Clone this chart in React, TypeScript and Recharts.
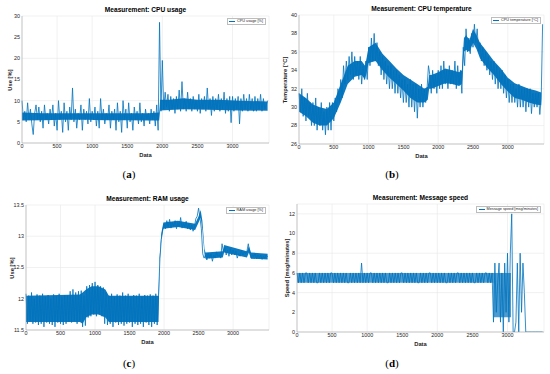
import { ComposedChart, Line, Area, XAxis, YAxis, CartesianGrid } from 'recharts';

// samples every STEP data points
const STEP = 20;
const X_MAX = 3520;
const X_TICKS = [0, 500, 1000, 1500, 2000, 2500, 3000];

const CPU_USAGE = [
  10, 5.5, 7.5, 5, 9.5, 5.5, 8, 4.5, 2, 7,
  9, 5.5, 8.5, 5, 7.5, 3.5, 9, 5.5, 7, 4.5,
  8, 5.5, 9, 4, 7, 3, 10, 5.5, 7.5, 2.5,
  9.5, 5, 7.5, 3, 8.5, 5.5, 13, 5, 8, 3.5,
  7, 5.5, 9, 3, 8, 5.5, 7.5, 4.5, 10.5, 5,
  7.5, 5.5, 8.5, 4, 7.5, 3.5, 10.5, 5.5, 8, 4.5,
  7, 5.5, 9, 3.5, 7.5, 5.5, 8, 3, 9.5, 5,
  7.5, 2.5, 10, 5.5, 8, 3.5, 9.5, 5, 7, 3,
  8.5, 5.5, 7.5, 4.5, 9.5, 5, 7, 4, 8, 5.5,
  7, 4.5, 8, 5.5, 7.5, 4, 9, 3, 28.5, 7.5,
  19.5, 8, 12, 8.5, 11.5, 7.5, 11, 8, 10.5, 7,
  11, 8, 12.5, 7.5, 14.5, 8, 10.5, 7.5, 12, 8,
  10.5, 7.5, 11, 8, 10, 7.5, 11.5, 7, 10.5, 8,
  11, 7.5, 13, 8, 10.5, 6.5, 11, 7.5, 10.5, 8,
  11.5, 7.5, 10.5, 8, 12, 7, 10.5, 7.5, 11, 4.8,
  11, 7.5, 10.5, 8, 11, 4.5, 10.5, 7.5, 11.5, 8,
  10.5, 7.5, 11.5, 8, 10.5, 7.5, 11, 7.5, 10.5, 8,
  11.5, 7.5, 10.5, 8, 9, 10,
];
const CPU_USAGE_TICKS = [0, 5, 10, 15, 20, 25, 30];
// dense core of the noise, read as an envelope
const CPU_BAND_X = [0, 300, 600, 900, 1200, 1500, 1800, 1955, 1968, 2100, 2300, 2500, 2800, 3100, 3500];
const CPU_BAND_LO = [5.3, 5.4, 5.5, 5.5, 5.4, 5.4, 5.3, 5.3, 7.7, 7.8, 8.0, 7.9, 7.8, 7.7, 7.6];
const CPU_BAND_HI = [7.2, 7.0, 7.0, 7.0, 7.0, 7.0, 7.0, 7.2, 10.2, 10.2, 10.6, 10.2, 10.2, 10.0, 9.8];

const CPU_TEMP = [
  31.5, 29.5, 32, 29, 31, 28.5, 31.5, 29, 30.5, 28,
  30.5, 28, 31, 27.5, 30, 28, 30.5, 27.5, 29.5, 27,
  30, 27.5, 30.5, 27.5, 30.5, 28.5, 31, 29.5, 32, 30.5,
  33, 31, 34.5, 32.5, 35, 33, 35.5, 33.5, 36, 33,
  35.5, 33.5, 35, 33, 35.5, 32.5, 34.5, 33, 35, 33,
  36.5, 34.5, 37.5, 35, 38, 35, 37, 34.5, 36, 33.5,
  35.5, 33, 35, 32.5, 34.5, 32, 34.5, 32, 34, 31.5,
  34, 31.5, 33.5, 31, 33, 30.5, 33, 30.5, 32.5, 30,
  33, 30, 32.5, 29.5, 32.5, 28.8, 32, 30, 32.5, 30,
  32, 30.5, 32, 34.5, 33.5, 31.5, 34, 32, 33.5, 31.5,
  34, 32, 34.5, 32, 35, 32.5, 34, 32, 34.5, 32.5,
  34, 32.5, 35, 32, 34.5, 32.5, 34, 31.5, 36.5, 34.5,
  38.5, 36, 37.5, 35.8, 38, 36.5, 39, 37, 38.5, 36,
  37, 35, 36.5, 34.5, 36, 34, 35.5, 33.5, 35, 33,
  35, 32.5, 34.5, 32, 34, 32, 34, 31.5, 33.5, 31,
  33, 30.5, 32.5, 30.5, 32.5, 30.5, 32, 30, 32.5, 30,
  32, 30, 32, 29.5, 32, 30, 32, 29.3, 31.5, 30,
  31.5, 30, 31.5, 29.2, 31, 39,
];
const CPU_TEMP_TICKS = [26, 28, 30, 32, 34, 36, 38, 40];
const TEMP_BAND_X = [
  0, 100, 200, 300, 400, 500, 600, 700, 800, 900, 950, 1000, 1100, 1200, 1300, 1400, 1500, 1600,
  1700, 1800, 1850, 1870, 1900, 2000, 2100, 2200, 2300, 2340, 2370, 2400, 2450, 2500, 2550, 2600,
  2700, 2800, 2900, 3000, 3100, 3200, 3300, 3400, 3480,
];
const TEMP_BAND_LO = [
  29.5, 29, 28.3, 28, 28, 28.8, 30.5, 32.5, 33.3, 33.5, 33, 34.8, 35, 34, 33.2, 32.5, 31.8, 31,
  30.5, 30.5, 30.8, 32, 32, 32.3, 32.6, 32.5, 32.3, 32.5, 36, 36.2, 36, 37, 36.3, 35.3,
  34.3, 33.5, 32.5, 31.7, 31, 30.8, 30.5, 30.3, 30.2,
];
const TEMP_BAND_HI = [
  31.5, 31, 30.3, 30, 29.8, 30.5, 32.5, 34.5, 35, 35, 34.5, 36.5, 37, 35.8, 35, 34.2, 33.5, 33,
  32.5, 32, 32.2, 33.5, 33.5, 33.8, 34.2, 34, 33.8, 34, 37.5, 37.8, 37.3, 38.5, 37.8, 37,
  36, 35, 34.2, 33.2, 32.6, 32.3, 32, 31.8, 31.6,
];

const RAM_USAGE = [
  12.08, 11.6, 12.05, 11.65, 12.1, 11.6, 12.0, 11.62, 12.07, 11.58,
  12.05, 11.6, 12.08, 11.55, 12.03, 11.62, 12.06, 11.6, 12.0, 11.58,
  12.07, 11.55, 12.04, 11.62, 12.08, 11.6, 12.03, 11.58, 12.06, 11.6,
  12.05, 11.63, 12.12, 11.62, 12.15, 11.65, 12.1, 11.6, 12.12, 11.65,
  12.13, 11.55, 12.05, 11.57, 12.2, 11.7, 12.22, 11.72, 12.25, 11.75,
  12.27, 11.72, 12.22, 11.75, 12.2, 11.72, 12.18, 11.6, 12.1, 11.58,
  12.05, 11.6, 12.08, 11.55, 12.03, 11.62, 12.07, 11.58, 12.05, 11.6,
  12.1, 11.57, 12.05, 11.6, 12.08, 11.62, 12.03, 11.55, 12.06, 11.6,
  12.05, 11.58, 12.08, 11.6, 12.03, 11.55, 12.06, 11.62, 12.05, 11.58,
  12.07, 11.55, 12.05, 11.6, 12.08, 11.58, 12.05, 12.65, 12.95, 13.1,
  13.2, 13.12, 13.25, 13.15, 13.27, 13.13, 13.22, 13.16, 13.25, 13.12,
  13.22, 13.15, 13.3, 13.13, 13.2, 13.15, 13.24, 13.12, 13.2, 13.1,
  13.18, 13.08, 13.15, 13.28, 13.32, 13.45, 13.3, 13.12, 12.72, 12.65,
  12.7, 12.62, 12.73, 12.65, 12.72, 12.6, 12.7, 12.65, 12.75, 12.68,
  12.7, 12.65, 12.88, 12.75, 12.82, 12.7, 12.78, 12.68, 12.8, 12.7,
  12.78, 12.7, 12.76, 12.65, 12.72, 12.68, 12.78, 12.7, 12.75, 12.72,
  12.76, 12.88, 12.74, 12.65, 12.7, 12.68, 12.72, 12.64, 12.7, 12.66,
  12.7, 12.63, 12.68, 12.65, 12.7, 12.67,
];
const RAM_USAGE_TICKS = [11.5, 12, 12.5, 13, 13.5];
const RAM_BAND_X = [
  0, 780, 820, 870, 950, 1050, 1150, 1200, 1920, 1935, 1960, 1990, 2200, 2450, 2500, 2530, 2555,
  2585, 2600, 2850, 2870, 3200, 3230, 3260, 3500,
];
const RAM_BAND_LO = [
  11.63, 11.63, 11.6, 11.7, 11.75, 11.75, 11.7, 11.63, 11.63, 12.55, 12.95, 13.12, 13.15, 13.1, 13.22, 13.3, 13.1,
  12.72, 12.64, 12.66, 12.74, 12.66, 12.74, 12.64, 12.63,
];
const RAM_BAND_HI = [
  12.05, 12.07, 12.1, 12.15, 12.2, 12.2, 12.15, 12.05, 12.05, 12.65, 13.05, 13.22, 13.25, 13.2, 13.32, 13.42, 13.25,
  12.8, 12.74, 12.76, 12.86, 12.76, 12.84, 12.74, 12.72,
];

const MSG_SPEED = [
  6, 5, 6, 5, 6, 5, 6, 6, 5, 6,
  5, 6, 5, 6, 5, 5, 6, 5, 6, 5,
  6, 5, 6, 5, 6, 6, 5, 6, 5, 6,
  5, 6, 5, 6, 5, 6, 5, 5, 6, 5,
  6, 5, 6, 5, 6, 5, 7, 5, 6, 5,
  6, 5, 6, 6, 5, 6, 5, 6, 5, 6,
  5, 6, 5, 6, 5, 5, 6, 5, 6, 5,
  6, 5, 6, 5, 6, 6, 5, 6, 5, 6,
  5, 6, 5, 6, 5, 6, 5, 5, 6, 5,
  6, 5, 6, 5, 6, 6, 5, 6, 5, 6,
  5, 6, 5, 6, 5, 6, 5, 5, 6, 5,
  6, 5, 6, 5, 6, 6, 5, 6, 5, 6,
  5, 6, 5, 6, 5, 6, 5, 5, 6, 5,
  6, 5, 6, 5, 6, 6, 5, 6, 5, 6,
  1, 7, 2, 5, 7, 1, 6, 0, 7, 2,
  8, 1, 8, 12, 0, 0, 1, 7, 0, 8,
  2, 7, 4, 0, 0, 0, 0, 0, 0, 0,
  0, 0, 0, 0, 0, 0,
];
const MSG_SPEED_TICKS = [0, 2, 4, 6, 8, 10, 12];
const MSG_BAND_X = [0, 2795, 2800, 3050];
const MSG_BAND_LO = [5, 5, 1.5, 1.5];
const MSG_BAND_HI = [6, 6, 6, 6];

const LINE_COLOR = '#0072bd';
const GRID_COLOR = '#e8e8e8';
const BOX_COLOR = '#a8a8a8';
const TEXT_COLOR = '#262626';
const SANS = '"Liberation Sans", Arial, Helvetica, sans-serif';
const PANEL_W = 275;

const toRows = (values: number[]) => values.map((v, i) => ({ x: i * STEP, v }));
const toBand = (xs: number[], lo: number[], hi: number[]) => xs.map((x, i) => ({ x, band: [lo[i], hi[i]] }));

interface PanelProps {
  left: number;
  top: number;
  plot: { l: number; t: number; r: number; b: number };
  title: string;
  yLabel: string;
  yLabelX: number;
  legend: string;
  values: number[];
  band: { x: number; band: number[] }[];
  bandOpacity: number;
  yDomain: [number, number];
  yTicks: number[];
  caption: string;
  captionX: number;
  captionY: number;
}

function Panel(p: PanelProps) {
  const { plot } = p;
  const midX = (plot.l + plot.r) / 2;
  const midY = (plot.t + plot.b) / 2;
  const tick = { fontSize: 5.4, fill: TEXT_COLOR, fontFamily: SANS };
  return (
    <div style={{ position: 'absolute', left: p.left, top: p.top, width: PANEL_W, height: 189 }}>
      <ComposedChart
        width={PANEL_W}
        height={plot.b + 10}
        margin={{ top: plot.t, right: PANEL_W - plot.r, bottom: 0, left: 0 }}
      >
        <CartesianGrid stroke={GRID_COLOR} strokeWidth={0.6} />
        <XAxis
          dataKey="x"
          type="number"
          domain={[0, X_MAX]}
          ticks={X_TICKS}
          height={10}
          tickSize={0}
          tickMargin={1.5}
          tick={tick}
          axisLine={{ stroke: BOX_COLOR, strokeWidth: 0.6 }}
        />
        <XAxis xAxisId="top" orientation="top" dataKey="x" type="number" domain={[0, X_MAX]} height={0} tick={false} tickLine={false} axisLine={{ stroke: BOX_COLOR, strokeWidth: 0.6 }} />
        <YAxis
          type="number"
          domain={p.yDomain}
          ticks={p.yTicks}
          width={plot.l}
          tickSize={0}
          tickMargin={2}
          tick={tick}
          allowDataOverflow
          axisLine={{ stroke: BOX_COLOR, strokeWidth: 0.6 }}
        />
        <YAxis yAxisId="right" orientation="right" domain={p.yDomain} width={0} tick={false} tickLine={false} axisLine={{ stroke: BOX_COLOR, strokeWidth: 0.6 }} />
        <Area
          data={p.band}
          dataKey="band"
          type="linear"
          stroke="none"
          fill={LINE_COLOR}
          fillOpacity={p.bandOpacity}
          isAnimationActive={false}
        />
        <Line
          data={toRows(p.values)}
          dataKey="v"
          type="linear"
          stroke={LINE_COLOR}
          strokeWidth={0.8}
          dot={false}
          isAnimationActive={false}
        />
      </ComposedChart>

      <div style={{ position: 'absolute', left: midX - 80, width: 160, top: plot.t - 10, textAlign: 'center', font: `bold 6.6px ${SANS}`, color: '#000' }}>
        {p.title}
      </div>
      <div style={{ position: 'absolute', left: midX - 30, width: 60, top: plot.b + 9, textAlign: 'center', font: `bold 5.8px ${SANS}`, color: TEXT_COLOR }}>
        Data
      </div>
      <div
        style={{
          position: 'absolute', left: p.yLabelX - 50, width: 100, top: midY - 4, textAlign: 'center',
          font: `bold 5.8px ${SANS}`, color: TEXT_COLOR, transform: 'rotate(-90deg)', lineHeight: '8px',
        }}
      >
        {p.yLabel}
      </div>
      <div
        style={{
          position: 'absolute', right: PANEL_W - plot.r + 3, top: plot.t + 1.5, background: '#fff',
          border: '0.5px solid #bdbdbd', padding: '0.5px 2px 0.5px 1.5px', display: 'flex', alignItems: 'center', gap: 2,
          font: `3.8px ${SANS}`, color: TEXT_COLOR, lineHeight: '4.5px', whiteSpace: 'nowrap',
        }}
      >
        <span style={{ display: 'inline-block', width: 6, height: 1, background: LINE_COLOR }} />
        {p.legend}
      </div>
      <div style={{ position: 'absolute', left: p.captionX - 20, width: 40, top: p.captionY - 7, textAlign: 'center', font: `11px "Liberation Serif", serif`, color: '#000' }}>
        (<b>{p.caption}</b>)
      </div>
    </div>
  );
}

export default function App() {
  return (
    <div style={{ position: 'absolute', left: 0, top: 0, width: 550, height: 374, background: '#fff', overflow: 'hidden' }}>
      <Panel
        left={0} top={0} plot={{ l: 22, t: 16, r: 269, b: 143 }}
        title="Measurement: CPU usage" yLabel="Use [%]" yLabelX={10} legend="CPU usage [%]"
        values={CPU_USAGE} band={toBand(CPU_BAND_X, CPU_BAND_LO, CPU_BAND_HI)} bandOpacity={0.95}
        yDomain={[0, 30]} yTicks={CPU_USAGE_TICKS}
        caption="a" captionX={129} captionY={175}
      />
      <Panel
        left={275} top={0} plot={{ l: 24, t: 15, r: 269, b: 144 }}
        title="Measurement: CPU temperature" yLabel="Temperature [°C]" yLabelX={10} legend="CPU temperature [°C]"
        values={CPU_TEMP} band={toBand(TEMP_BAND_X, TEMP_BAND_LO, TEMP_BAND_HI)} bandOpacity={0.95}
        yDomain={[26, 40]} yTicks={CPU_TEMP_TICKS}
        caption="b" captionX={117} captionY={175}
      />
      <Panel
        left={0} top={185} plot={{ l: 26, t: 20, r: 269, b: 145 }}
        title="Measurement: RAM usage" yLabel="Use [%]" yLabelX={12} legend="RAM usage [%]"
        values={RAM_USAGE} band={toBand(RAM_BAND_X, RAM_BAND_LO, RAM_BAND_HI)} bandOpacity={0.95}
        yDomain={[11.5, 13.5]} yTicks={RAM_USAGE_TICKS}
        caption="c" captionX={129} captionY={179}
      />
      <Panel
        left={275} top={185} plot={{ l: 22, t: 19, r: 269, b: 147 }}
        title="Measurement: Message speed" yLabel="Speed [msg/minutes]" yLabelX={12} legend="Message speed [msg/minutes]"
        values={MSG_SPEED} band={toBand(MSG_BAND_X, MSG_BAND_LO, MSG_BAND_HI)} bandOpacity={0.7}
        yDomain={[0, 13]} yTicks={MSG_SPEED_TICKS}
        caption="d" captionX={117} captionY={179}
      />
    </div>
  );
}
